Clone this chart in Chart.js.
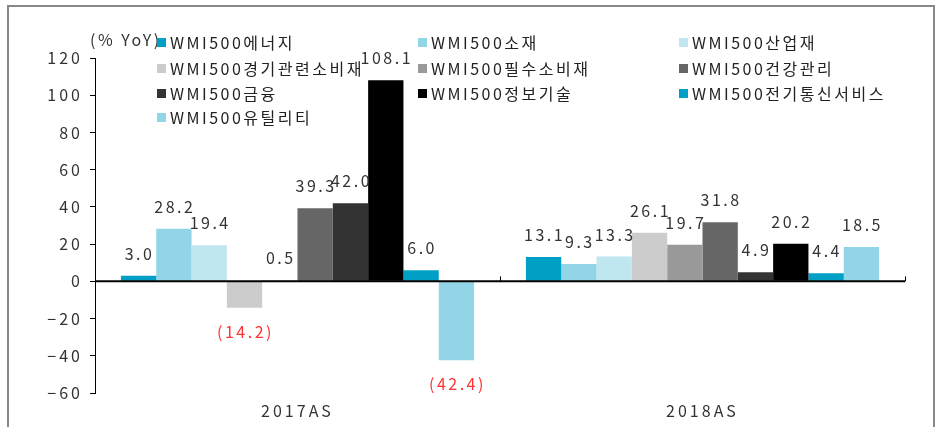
<!DOCTYPE html>
<html>
<head>
<meta charset="utf-8">
<script src="https://cdn.jsdelivr.net/npm/chart.js@4.4.0/dist/chart.umd.min.js"></script>
<style>
  html, body { margin: 0; padding: 0; background: #fff; }
  #wrap { width: 940px; height: 427px; position: relative; }
</style>
</head>
<body>
<div id="wrap"><canvas id="chart" width="940" height="427"></canvas></div>
<script>
// Data
const categories = ['2017AS', '2018AS'];
const seriesNames = [
    'WMI500에너지', 'WMI500소재', 'WMI500산업재',
    'WMI500경기관련소비재', 'WMI500필수소비재', 'WMI500건강관리',
    'WMI500금융', 'WMI500정보기술', 'WMI500전기통신서비스',
    'WMI500유틸리티'
];
const values2017 = [3.0, 28.2, 19.4, -14.2, 0.5, 39.3, 42.0, 108.1, 6.0, -42.4];
const values2018 = [13.1, 9.3, 13.3, 26.1, 19.7, 31.8, 4.9, 20.2, 4.4, 18.5];
const yTicks = [-60, -40, -20, 0, 20, 40, 60, 80, 100, 120];

// Styles
const seriesColors = [
    '#00a0c6', '#92d5e6', '#c0e6f0',
    '#cccccc', '#999999', '#666666',
    '#333333', '#000000', '#00a0c6',
    '#92d5e6'
];
const FONT = '"Noto Sans CJK KR", "Noto Sans", sans-serif';

const datasets = seriesNames.map((name, i) => ({
    label: name,
    data: [values2017[i], values2018[i]],
    backgroundColor: seriesColors[i],
    borderWidth: 0,
    categoryPercentage: 0.872,
    barPercentage: 1.0
}));

// Outer frame, and wider letter spacing for the axis texts
const framePlugin = {
    id: 'frame',
    beforeDraw(chart) {
        const ctx = chart.ctx;
        ctx.save();
        ctx.strokeStyle = '#888888';
        ctx.lineWidth = 2;
        ctx.strokeRect(8, 6, 926, 440);
        ctx.restore();
        if ('letterSpacing' in ctx) ctx.letterSpacing = '3px';
    }
};

// Zero line + category separators
const zeroLinePlugin = {
    id: 'zeroLine',
    afterDatasetsDraw(chart) {
        const ctx = chart.ctx;
        const y0 = chart.scales.y.getPixelForValue(0);
        const area = chart.chartArea;
        ctx.save();
        ctx.strokeStyle = '#000';
        ctx.lineWidth = 2;
        ctx.beginPath();
        ctx.moveTo(area.left, y0);
        ctx.lineTo(area.right, y0);
        ctx.stroke();
        ctx.lineWidth = 1;
        const xs = chart.scales.x;
        for (let i = 0; i < categories.length; i++) {
            const bx = Math.round(xs.getPixelForValue(i + 0.5)) + 0.5;
            ctx.beginPath();
            ctx.moveTo(bx, y0);
            ctx.lineTo(bx, y0 - 5);
            ctx.stroke();
        }
        ctx.restore();
    }
};

// Value labels
const valueLabelPlugin = {
    id: 'valueLabels',
    afterDatasetsDraw(chart) {
        const ctx = chart.ctx;
        ctx.save();
        ctx.font = '16px ' + FONT;
        ctx.textAlign = 'center';
        ctx.textBaseline = 'middle';
        if ('letterSpacing' in ctx) ctx.letterSpacing = '2.5px';
        chart.data.datasets.forEach((ds, i) => {
            const meta = chart.getDatasetMeta(i);
            meta.data.forEach((bar, j) => {
                const v = ds.data[j];
                if (v >= 0) {
                    ctx.fillStyle = '#333333';
                    ctx.fillText(v.toFixed(1), bar.x + 1, bar.y - 22);
                } else {
                    ctx.fillStyle = '#ff3333';
                    ctx.fillText('(' + Math.abs(v).toFixed(1) + ')', bar.x + 1, bar.y + 24);
                }
            });
        });
        ctx.restore();
    }
};

// Legend + axis title
const legendPlugin = {
    id: 'customLegend',
    afterDraw(chart) {
        const ctx = chart.ctx;
        const colX = [157, 418, 679];
        const rowY = [42, 68, 93, 117];
        ctx.save();
        ctx.font = '16px ' + FONT;
        ctx.textBaseline = 'middle';
        ctx.textAlign = 'left';
        if ('letterSpacing' in ctx) ctx.letterSpacing = '2.5px';
        ctx.fillStyle = '#333333';
        ctx.fillText('(% YoY)', 90, 40);
        chart.data.datasets.forEach((ds, i) => {
            const x = colX[i % 3];
            const y = rowY[Math.floor(i / 3)];
            ctx.fillStyle = ds.backgroundColor;
            ctx.fillRect(x, y - 4, 9, 9);
            ctx.fillStyle = '#222222';
            ctx.fillText(ds.label, x + 13, y + 1);
        });
        ctx.restore();
    }
};

new Chart(document.getElementById('chart'), {
    type: 'bar',
    data: { labels: categories, datasets: datasets },
    options: {
        responsive: false,
        animation: false,
        devicePixelRatio: 1,
        layout: { padding: { top: 58, right: 35, left: 0, bottom: 0 } },
        plugins: {
            legend: { display: false },
            tooltip: { enabled: false }
        },
        scales: {
            x: {
                afterFit(scale) { scale.height = 34; },
                grid: { display: false, drawTicks: false },
                border: { display: false },
                ticks: {
                    padding: 8,
                    color: '#333333',
                    font: { family: FONT, size: 16 }
                }
            },
            y: {
                min: yTicks[0],
                max: yTicks[yTicks.length - 1],
                afterFit(scale) { scale.width = 95; },
                afterBuildTicks(scale) {
                    scale.ticks = yTicks.map(v => ({ value: v }));
                },
                grid: {
                    drawOnChartArea: false,
                    drawTicks: true,
                    tickLength: 5,
                    color: '#000'
                },
                border: { display: true, color: '#000', width: 1 },
                ticks: {
                    padding: 7,
                    color: '#333333',
                    font: { family: FONT, size: 16 },
                    callback: v => String(v).replace('-', '\u2212')
                }
            }
        }
    },
    plugins: [framePlugin, zeroLinePlugin, valueLabelPlugin, legendPlugin]
});
</script>
</body>
</html>
